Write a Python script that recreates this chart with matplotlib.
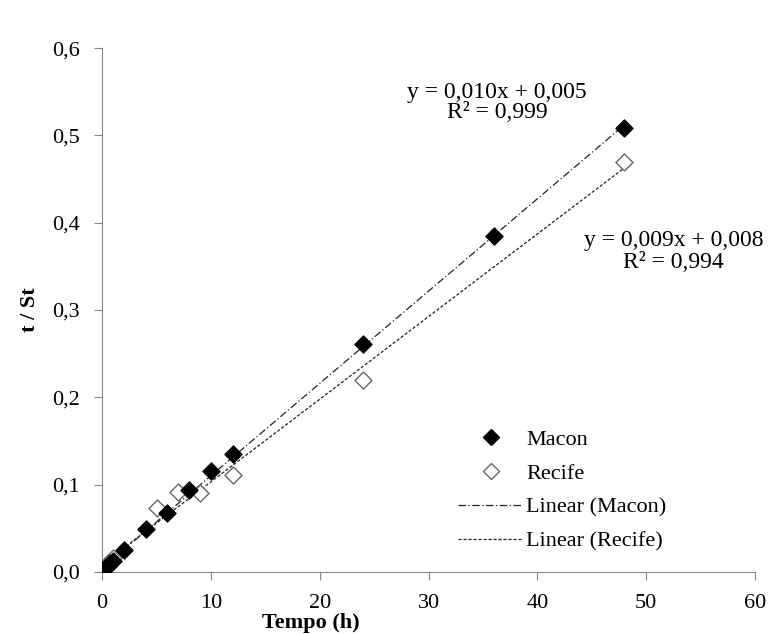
import numpy as np
import matplotlib.pyplot as plt
from matplotlib.ticker import FuncFormatter
from matplotlib.lines import Line2D

# data
macon_t = [0.1, 0.25, 0.5, 0.75, 1, 2, 4, 6, 8, 10, 12, 24, 36, 48]
macon_y = [0.002, 0.004, 0.007, 0.010, 0.013, 0.025, 0.049, 0.068, 0.094, 0.115, 0.135, 0.261, 0.385, 0.508]
recife_t = [0.25, 0.5, 1, 5, 7, 9, 12, 24, 48]
recife_y = [0.005, 0.010, 0.016, 0.073, 0.092, 0.090, 0.111, 0.220, 0.470]

eq_macon = "y = 0,010x + 0,005\nR\u00b2 = 0,999"
eq_recife = "y = 0,009x + 0,008\nR\u00b2 = 0,994"

plt.rcParams['font.family'] = ['Liberation Serif', 'DejaVu Serif']
plt.rcParams['font.size'] = 16

fig = plt.figure(figsize=(7.68, 6.34), dpi=100)
ax = fig.add_axes([0.133, 0.098, 0.85, 0.826])

# trend lines
xs = np.array([0, 48])
pm = np.polyfit(macon_t, macon_y, 1)
pr = np.polyfit(recife_t, recife_y, 1)
ax.plot(xs, np.polyval(pm, xs), color='#222222', lw=0.9, ls=(0, (6, 2, 1, 2)), zorder=2)
ax.plot(xs, np.polyval(pr, xs), color='#222222', lw=0.9, ls=(0, (2.5, 1.5)), zorder=2)

ax.scatter(recife_t, recife_y, marker='D', s=75, facecolor='white', edgecolor='#666666', linewidth=1, zorder=3)
ax.scatter(macon_t, macon_y, marker='D', s=75, color='black', zorder=4)

ax.set_xlim(0, 60)
ax.set_ylim(0, 0.6)
ax.set_xticks(range(0, 61, 10))
ax.set_yticks(np.arange(0, 0.61, 0.1))
ax.yaxis.set_major_formatter(FuncFormatter(lambda v, p: f"{v:.1f}".replace('.', ',')))

for s in ['top', 'right']:
    ax.spines[s].set_visible(False)
for s in ['left', 'bottom']:
    ax.spines[s].set_color('#888888')
ax.tick_params(color='#888888', length=6, labelsize=16)
ax.tick_params(axis='x', pad=10)
ax.tick_params(axis='y', pad=10)

ax.set_xlabel('Tempo (h)', fontweight='bold', fontsize=16)
ax.xaxis.set_label_coords(0.32, -0.078)
ax.set_ylabel('t / St', fontweight='bold', fontsize=16)
ax.yaxis.set_label_coords(-0.095, 0.5)

ax.annotate(eq_macon, xy=(0.605, 0.897), xycoords='axes fraction', ha='center', va='center',
            fontsize=17, linespacing=0.95)
ax.annotate(eq_recife, xy=(0.875, 0.612), xycoords='axes fraction', ha='center', va='center',
            fontsize=17, linespacing=1.05)

handles = [
    Line2D([], [], marker='D', ls='none', color='black', markersize=8),
    Line2D([], [], marker='D', ls='none', markerfacecolor='white', markeredgecolor='#666666', markersize=8),
    Line2D([], [], color='#222222', lw=0.9, ls=(0, (6, 2, 1, 2))),
    Line2D([], [], color='#222222', lw=0.9, ls=(0, (2.5, 1.5))),
]
labels = ['Macon', 'Recife', 'Linear (Macon)', 'Linear (Recife)']
ax.legend(handles, labels, loc='lower left', bbox_to_anchor=(0.515, 0.0), frameon=False,
          fontsize=16, handlelength=2.9, handletextpad=0.15, labelspacing=0.6)

fig.savefig('out.png', dpi=100)
